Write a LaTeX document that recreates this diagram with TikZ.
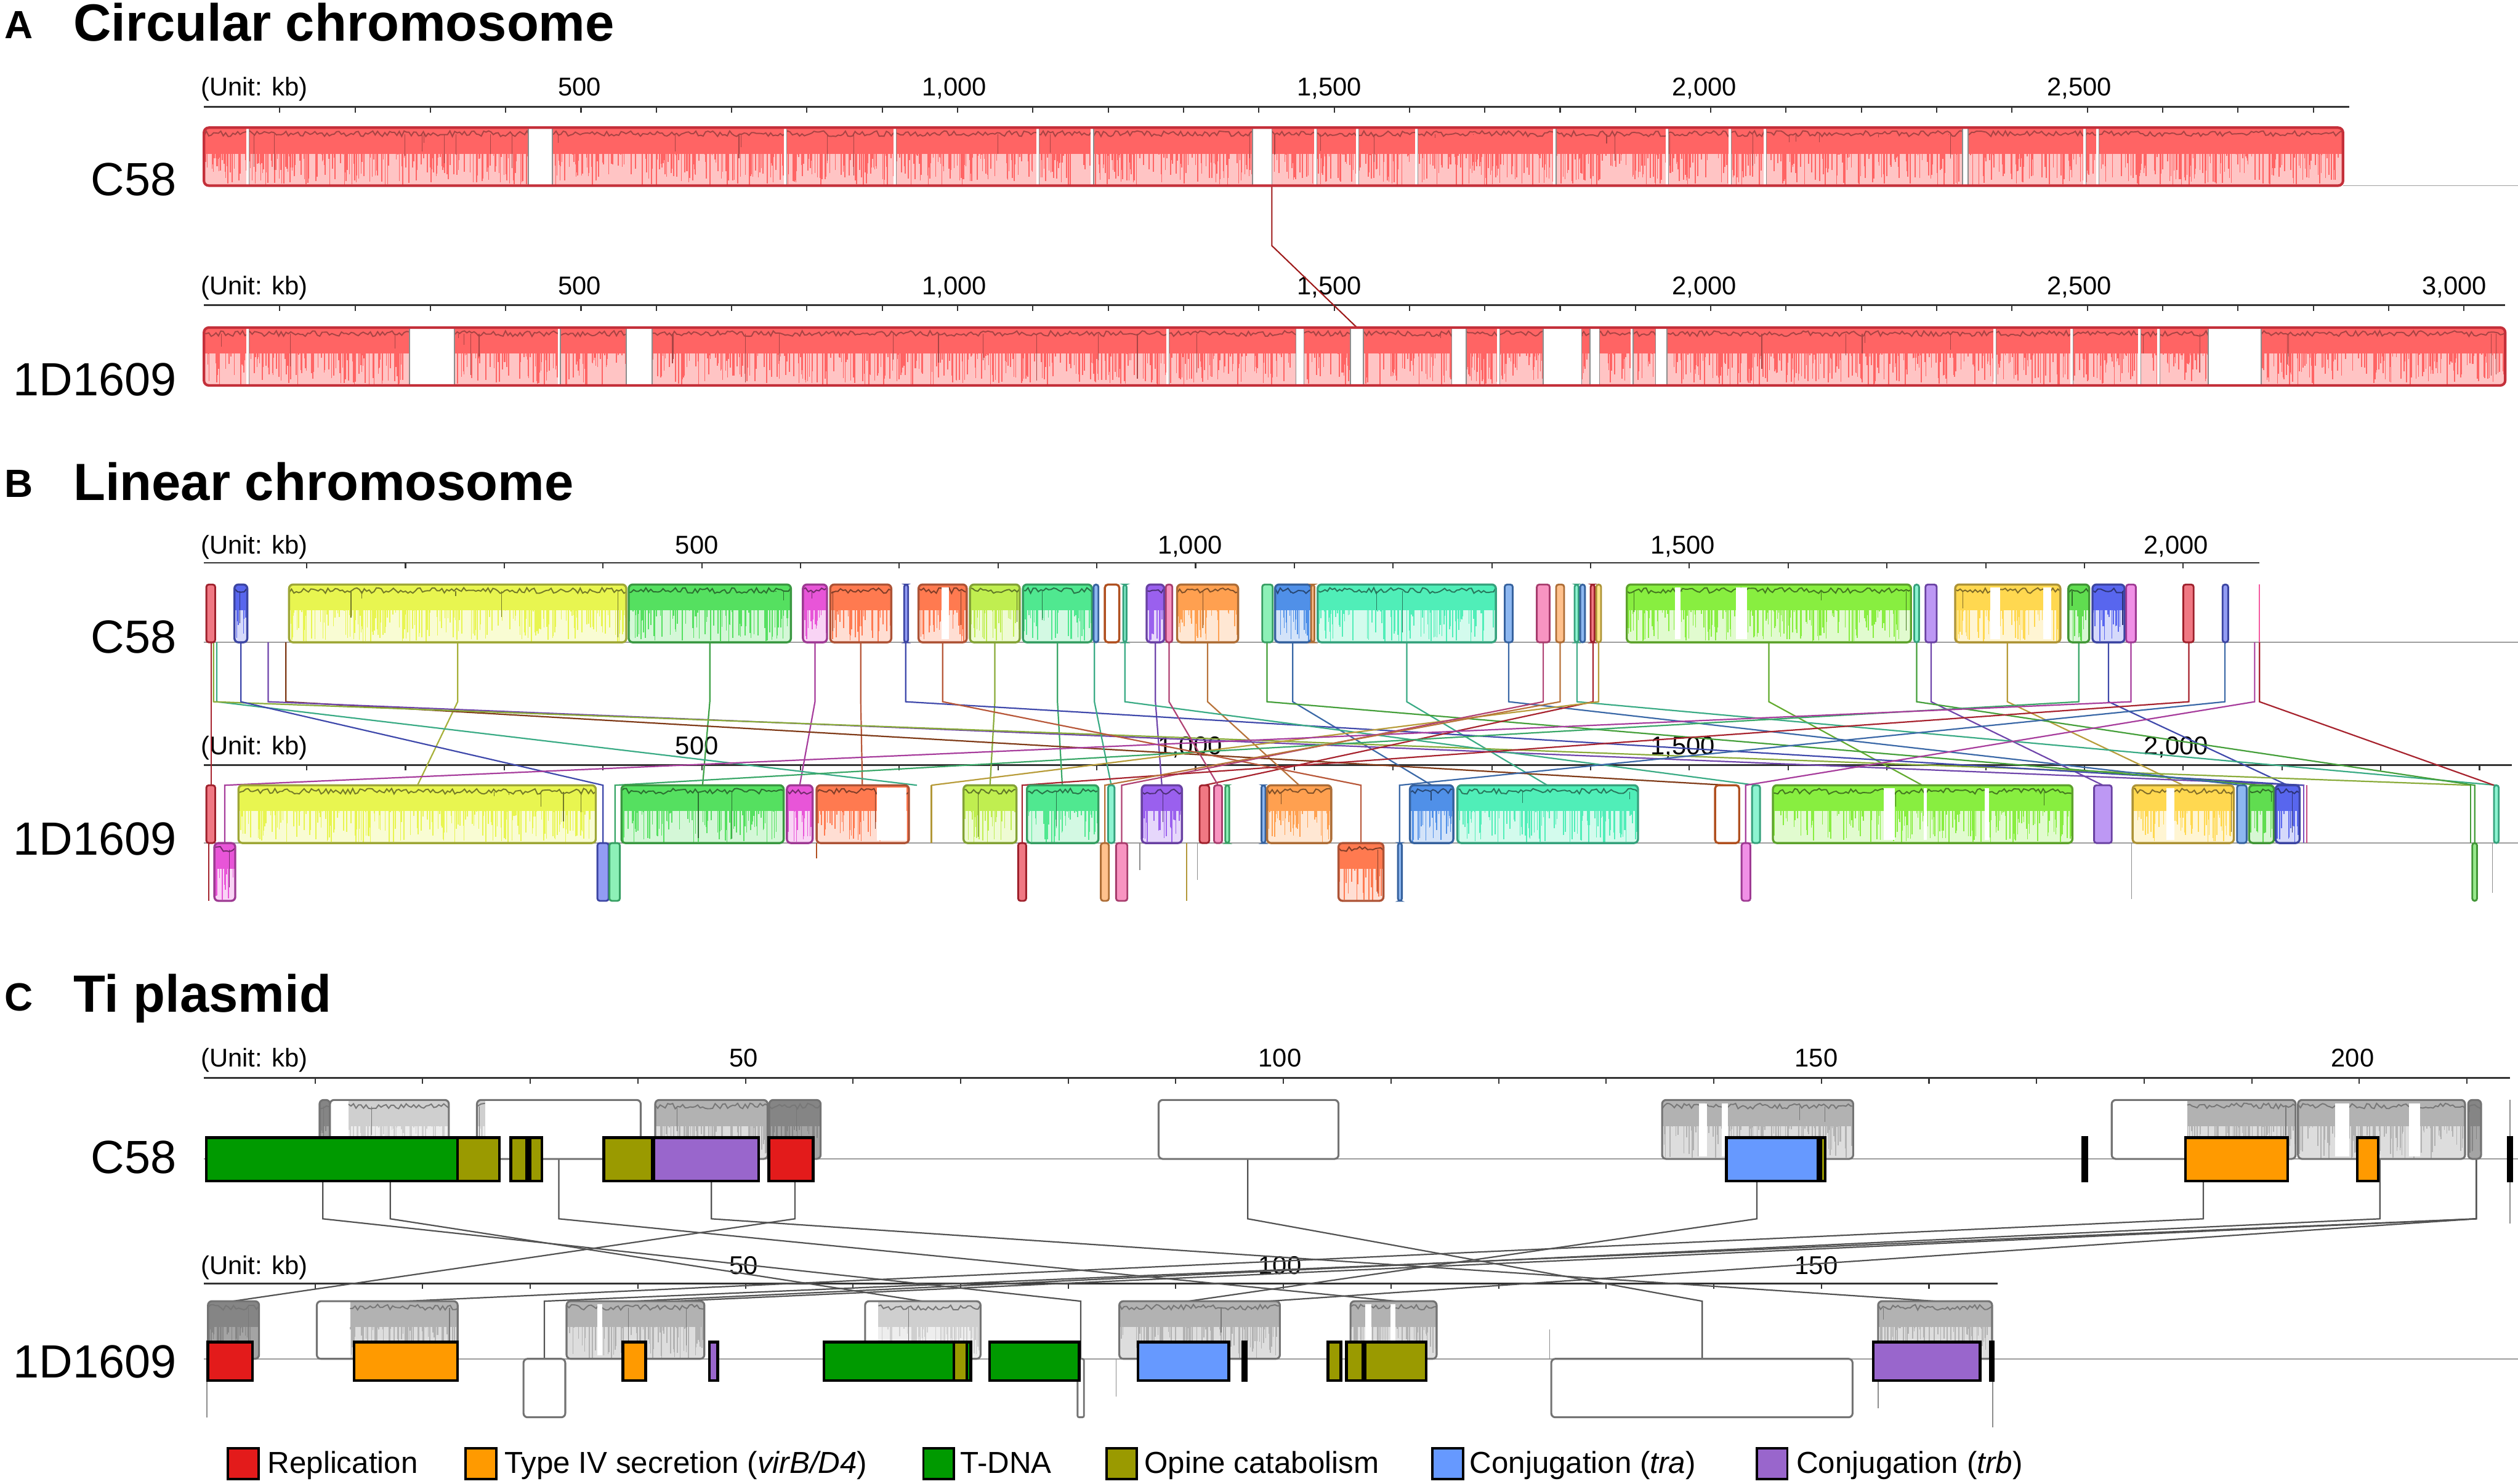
\documentclass[tikz,border=0pt]{standalone}
\usepackage{fontspec}
\setmainfont{Liberation Sans}
\definecolor{aband}{HTML}{FF6464}
\definecolor{alight}{HTML}{FFC4C4}
\definecolor{aprof}{HTML}{A84444}
\definecolor{aout}{HTML}{C4303A}
\definecolor{aline}{HTML}{9E1A1A}
\definecolor{cY}{HTML}{E8F550}
\definecolor{cG}{HTML}{55E060}
\definecolor{cM}{HTML}{E855D8}
\definecolor{cC}{HTML}{FF7A50}
\definecolor{cYG}{HTML}{C0EE50}
\definecolor{cTG}{HTML}{50E890}
\definecolor{cP}{HTML}{9A60EE}
\definecolor{cO}{HTML}{FFA050}
\definecolor{cB}{HTML}{5090E8}
\definecolor{cT}{HTML}{50EEB8}
\definecolor{cLG}{HTML}{88EE40}
\definecolor{cGd}{HTML}{FFD850}
\definecolor{cG2}{HTML}{60DD50}
\definecolor{cB2}{HTML}{5866EE}
\definecolor{cPk}{HTML}{F55AA0}
\definecolor{cR}{HTML}{E83040}
\definecolor{cBr}{HTML}{B05020}
\definecolor{gband}{HTML}{B2B2B2}
\definecolor{glight}{HTML}{DDDDDD}
\definecolor{lband}{HTML}{CFCFCF}
\definecolor{llight}{HTML}{EEEEEE}
\definecolor{dband}{HTML}{858585}
\definecolor{dlight}{HTML}{A4A4A4}
\definecolor{gprof}{HTML}{777777}
\definecolor{lgR}{HTML}{E31B1B}
\definecolor{lgO}{HTML}{FF9A00}
\definecolor{lgG}{HTML}{009A00}
\definecolor{lgOl}{HTML}{9A9A00}
\definecolor{lgB}{HTML}{6699FF}
\definecolor{lgP}{HTML}{9966CC}
\tikzset{
  rul/.style={line width=1.1pt, draw=black!80},
  tickm/.style={line width=0.8pt, draw=black!80},
  lab/.style={font=\fontsize{16}{18}\selectfont, inner sep=0pt},
  glab/.style={font=\fontsize{29}{32}\selectfont, inner sep=0pt, anchor=base east},
  ttl/.style={font=\bfseries\fontsize{32.6}{36}\selectfont, inner sep=0pt, anchor=base west},
  plet/.style={font=\bfseries\fontsize{24.5}{28}\selectfont, inner sep=0pt, anchor=base west},
  baseln/.style={draw=black!38, line width=0.6pt},
  leg/.style={font=\fontsize{18.9}{22}\selectfont, inner sep=0pt, anchor=base west},
}
\newcommand\Prof[7]{%
  \fill[#6] (#1,#3) rectangle (#2,#4);
  \pgfmathsetmacro\ymd{#3+0.45*(#4-#3)}%
  \fill[#5] (#1,#3) rectangle (#2,\ymd);
  \pgfmathtruncatemacro\nn{max(2,(#2-#1)/1.0)}%
  \draw[#5,line width=0.6pt] \foreach \k in {1,...,\nn}{({#1+(#2-#1)*rnd},\ymd) -- ++(0,{(#4-\ymd)*rnd})};
  \pgfmathtruncatemacro\nd{max(1,(#2-#1)/40)}%
  \draw[#7,line width=0.45pt] \foreach \k in {1,...,\nd}{({#1+(#2-#1)*rnd},{#3+4}) -- ++(0,{(#4-#3-6)*rnd})};
  \pgfmathtruncatemacro\ns{max(2,(#2-#1)/1.5)}%
  \draw[#7,line width=0.75pt] plot[domain=#1:#2,samples=\ns] (\x,{#3+2+3.5*rnd});
}
\newcommand\Blk[5]{%
  \begin{scope}
  \clip[rounded corners=2.5pt] (#1,#3) rectangle (#2,#4);
  \Prof{#1}{#2}{#3}{#4}{#5}{#5!25!white}{#5!50!black}
  \end{scope}
  \draw[#5!68!black,line width=1.3pt,rounded corners=2.5pt] (#1,#3) rectangle (#2,#4);
}
\newcommand\Thn[5]{\draw[#5!68!black,fill=#5!65!white,line width=1.1pt,rounded corners=1.5pt] (#1,#3) rectangle (#2,#4);}
\newcommand\GB[8]{%
  \fill[white,rounded corners=2.5pt] (#1,#5) rectangle (#2,#6);
  \begin{scope}
  \clip[rounded corners=2.5pt] (#1,#5) rectangle (#2,#6);
  \Prof{#3}{#4}{#5}{#6}{#7}{#8}{gprof}
  \end{scope}
  \draw[black!55,line width=1.2pt,rounded corners=2.5pt] (#1,#5) rectangle (#2,#6);
}
\newcommand\Wb[4]{\draw[black!55,fill=white,line width=1.2pt,rounded corners=2.5pt] (#1,#3) rectangle (#2,#4);}
\newcommand\Gene[5]{\draw[black,line width=1.7pt,fill=#5] (#1,#3) rectangle (#2,#4);}
\newcommand\Cx[7]{\draw[#7,line width=0.85pt] (#1,#2) -- (#1,#3) -- (#4,#5) -- (#4,#6);}
\newcommand\BU[3]{\Cx{#1}{400}{437}{#2}{489}{489}{#3!72!black}}
\newcommand\BD[3]{\Cx{#1}{400}{437}{#2}{489}{525}{#3!72!black}}
\newcommand\CU[2]{\Cx{#1}{721.7}{759}{#2}{810.3}{810.3}{black!68}}
\newcommand\CD[2]{\Cx{#1}{721.7}{759}{#2}{810.3}{846.2}{black!68}}
\newcommand\Gap[4]{\fill[white] (#1,#3) rectangle (#2,#4); \draw[black!45,line width=0.6pt] (#1,#3)--(#1,#4) (#2,#3)--(#2,#4);}
\newcommand\TGap[3]{\draw[white,line width=1.5pt] (#1,#2)--(#1,#3); \draw[black!45,line width=0.5pt] ({#1+1},#2)--({#1+1},#3);}
\begin{document}
\begin{tikzpicture}[x=1pt,y=-1pt]
\pgfmathsetseed{4242}
\useasboundingbox (0,0) rectangle (1568,924);
\fill[white] (0,0) rectangle (1568,924);

%%%%%%%%%%%%%%%% PANEL A
\node[plet] (pA) at (2.5,24) {A};
\node[ttl] (tA) at (45.5,25.4) {Circular chromosome};
\node[glab] (gA1) at (110,121.6) {C58};
\node[glab] (gA2) at (110,246.5) {1D1609};
\draw[rul] (127,66.5) -- (1463,66.5);
\foreach \i in {1,...,28} \draw[tickm] ({127.3+46.9*\i},66.5) -- ++(0,3.5);
\node[lab,anchor=base west] (uA1) at (125,59.6) {(Unit: kb)};
\foreach \k/\t in {1/500,2/{1,000},3/{1,500},4/{2,000},5/{2,500}}
  \node[lab,anchor=base] (aT\k) at ({127.3+233.5*\k},59.6) {\t};
\draw[rul] (127,190) -- (1560,190);
\foreach \i in {1,...,30} \draw[tickm] ({127.3+46.9*\i},190) -- ++(0,3.5);
\node[lab,anchor=base west] (uA2) at (125,183.6) {(Unit: kb)};
\foreach \k/\t in {1/500,2/{1,000},3/{1,500},4/{2,000},5/{2,500},6/{3,000}}
  \node[lab,anchor=base] (bT\k) at ({127.3+233.5*\k},183.6) {\t};
\draw[baseln] (1459,115.6) -- (1568,115.6);
\draw[aline,line width=0.8pt] (792,115.6) -- (792,153) -- (845,204);
\begin{scope}
\clip[rounded corners=3pt] (127,79.5) rectangle (1459,115.6);
\Prof{127}{1459}{79.5}{115.6}{aband}{alight}{aprof}
\Gap{329}{344}{79.5}{115.6}
\Gap{780}{792}{79.5}{115.6}
\Gap{1222}{1225.5}{79.5}{115.6}
\foreach \g in {154,489,557,646,680,819,845,882,968,1038,1077,1099,1298,1306} {\TGap{\g}{79.5}{115.6}}
\end{scope}
\draw[aout,line width=1.6pt,rounded corners=3pt] (127,79.5) rectangle (1459,115.6);
\begin{scope}
\clip[rounded corners=3pt] (127,204) rectangle (1560,240);
\Prof{127}{1560}{204}{240}{aband}{alight}{aprof}
\Gap{255}{283}{204}{240}
\Gap{390}{406}{204}{240}
\Gap{807}{812}{204}{240}
\Gap{841}{849}{204}{240}
\Gap{904}{913}{204}{240}
\Gap{961}{985}{204}{240}
\Gap{990}{996}{204}{240}
\Gap{1031}{1038}{204}{240}
\Gap{1375}{1408}{204}{240}
\foreach \g in {154,348,727,933,1016,1242,1290,1332,1344} {\TGap{\g}{204}{240}}
\end{scope}
\draw[aout,line width=1.6pt,rounded corners=3pt] (127,204) rectangle (1560,240);

%%%%%%%%%%%%%%%% PANEL B
\node[plet] (pB) at (2.5,309.5) {B};
\node[ttl] (tB) at (45.5,311.4) {Linear chromosome};
\node[glab] (gB1) at (110,406.7) {C58};
\node[glab] (gB2) at (110,532.6) {1D1609};
\draw[rul] (127,350.5) -- (1407,350.5);
\foreach \i in {1,...,20} \draw[tickm] ({129.5+61.5*\i},350.5) -- ++(0,3.5);
\node[lab,anchor=base west] (uB1) at (125,345) {(Unit: kb)};
\foreach \k/\t in {1/500,2/{1,000},3/{1,500},4/{2,000}}
  \node[lab,anchor=base] (cT\k) at ({127+307*\k},345) {\t};
\draw[rul] (127,476.3) -- (1564,476.3);
\foreach \i in {1,...,23} \draw[tickm] ({129.5+61.5*\i},476.3) -- ++(0,3.5);
\node[lab,anchor=base west] (uB2) at (125,470) {(Unit: kb)};
\foreach \k/\t in {1/500,2/{1,000},3/{1,500},4/{2,000}}
  \node[lab,anchor=base] (dT\k) at ({127+307*\k},470) {\t};
\draw[baseln] (127,400) -- (1568,400);
\draw[baseln] (127,525) -- (1568,525);
\BU{285}{260}{cY}
\BU{442}{437.5}{cG}
\BU{507.5}{498}{cM}
\BU{536}{537}{cC}
\BU{619.5}{616.5}{cYG}
\BU{658.5}{661.5}{cTG}
\BU{719.5}{723.5}{cP}
\BU{752}{809}{cO}
\BU{805}{891.5}{cB}
\BU{876}{963.5}{cT}
\BU{1101.5}{1197}{cLG}
\BU{1250}{1359.5}{cGd}
\BU{1313}{1424.5}{cB2}
\BU{1202.5}{1309.5}{cP}
\BU{131.5}{131.5}{cR}
\BU{178}{1075.5}{cBr}
\BU{135}{571}{cT}
\BU{167}{1435}{cP}
\BU{133}{1538.5}{cYG}
\BU{564}{1434}{cB2}
\BU{681.5}{692}{cT}
\BU{700.5}{1093.5}{cT}
\BU{789}{1408}{cG2}
\BU{939.5}{1396}{cB}
\BU{982}{1554.5}{cT}
\BU{992}{750}{cR}
\BU{995.5}{580}{cGd}
\BU{728}{758.5}{cPk}
\BU{1407}{1553}{cR}
\BD{1193.5}{1541}{cG2}
\BD{1294.5}{383}{cTG}
\BD{587}{847.5}{cC}
\BD{150}{375.5}{cB2}
\BD{961}{698.5}{cPk}
\BD{1327}{140}{cM}
\BD{1363}{636.5}{cR}
\BD{1385.5}{871.5}{cB}
\BD{971.5}{688}{cO}
\BD{1404}{1087}{cM}
% C58 blocks
\Thn{128.5}{134}{364}{400}{cR}
\Blk{146}{154}{364}{400}{cB2}
\Blk{180}{390}{364}{400}{cY}
\Blk{391.5}{492.5}{364}{400}{cG}
\Blk{500}{515}{364}{400}{cM}
\Blk{517}{555}{364}{400}{cC}
\Thn{563}{565.5}{364}{400}{cB2}
\Blk{572}{602}{364}{400}{cC}
\fill[white] (586.5,366) rectangle (591,398);
\Blk{604}{635}{364}{400}{cYG}
\Blk{637}{680}{364}{400}{cTG}
\Thn{681}{684}{364}{400}{cB}
\draw[cBr,line width=1.3pt,rounded corners=2pt,fill=white] (688,364) rectangle (697,400);
\Thn{699.5}{701.5}{364}{400}{cT}
\Blk{714}{725}{364}{400}{cP}
\Thn{726}{730}{364}{400}{cPk}
\Blk{733}{771}{364}{400}{cO}
\Thn{786}{792.5}{364}{400}{cTG}
\Blk{794}{816.5}{364}{400}{cB}
\Thn{816.5}{818.5}{364}{400}{cO}
\Blk{820.5}{931.5}{364}{400}{cT}
\Thn{937}{942}{364}{400}{cB}
\Thn{957}{965}{364}{400}{cPk}
\Thn{969}{974}{364}{400}{cO}
\Thn{980.5}{983}{364}{400}{cT}
\Thn{984}{987}{364}{400}{cB}
\Thn{990.5}{993}{364}{400}{cR}
\Thn{994}{997}{364}{400}{cGd}
\Blk{1013}{1190}{364}{400}{cLG}
\fill[white] (1043,366) rectangle (1046.5,398);
\fill[white] (1081,366) rectangle (1088,398);
\Thn{1192}{1195}{364}{400}{cT}
\Thn{1199}{1206}{364}{400}{cP}
\Blk{1217.5}{1283}{364}{400}{cGd}
\fill[white] (1239.5,366) rectangle (1245.5,398);
\fill[white] (1272.5,366) rectangle (1277.5,398);
\Blk{1288}{1301}{364}{400}{cG2}
\Blk{1303}{1323}{364}{400}{cB2}
\Thn{1324}{1330}{364}{400}{cM}
\Thn{1359.5}{1366}{364}{400}{cR}
\Thn{1384}{1387.5}{364}{400}{cB2}
\draw[cPk,line width=0.6pt] (1407,364) -- (1407,400);
% 1D1609 upper blocks
\Thn{128.5}{134}{489}{525}{cR}
\draw[cR!70!black,line width=0.7pt] (130,525) -- (130,561);
\Blk{148.5}{371}{489}{525}{cY}
\Blk{387}{488}{489}{525}{cG}
\Blk{490}{506}{489}{525}{cM}
\Blk{508.5}{566}{489}{525}{cC}
\fill[white] (546,490.5) rectangle (564.3,523.5);
\draw[cGd!70!black,line width=0.8pt] (580,489) -- (580,525);
\Blk{600}{633}{489}{525}{cYG}
\Blk{639.5}{684}{489}{525}{cTG}
\Thn{690}{694}{489}{525}{cT}
\Blk{711}{736}{489}{525}{cP}
\Thn{747}{753}{489}{525}{cR}
\Thn{756}{761}{489}{525}{cPk}
\Thn{763}{765.5}{489}{525}{cTG}
\Thn{785.5}{788}{489}{525}{cB}
\Blk{789}{829}{489}{525}{cO}
\Blk{878}{905}{489}{525}{cB}
\Blk{907.5}{1020}{489}{525}{cT}
\draw[cBr,line width=1.3pt,rounded corners=2pt,fill=white] (1068,489) rectangle (1083,525);
\Thn{1091}{1096}{489}{525}{cT}
\Blk{1104}{1290.5}{489}{525}{cLG}
\fill[white] (1173,491) rectangle (1180,523);
\fill[white] (1198,491) rectangle (1200,523);
\fill[white] (1236,491) rectangle (1238.5,523);
\Thn{1304}{1315}{489}{525}{cP}
\Blk{1328}{1391}{489}{525}{cGd}
\fill[white] (1349,491) rectangle (1354,523);
\Thn{1393}{1399}{489}{525}{cB}
\Blk{1400.5}{1416}{489}{525}{cG2}
\Blk{1417}{1432}{489}{525}{cB2}
\draw[cP!80!black,line width=0.6pt] (1434.5,489) -- (1434.5,525);
\draw[cPk!80!black,line width=0.6pt] (1436.5,489) -- (1436.5,525);
\draw[cG2!70!black,line width=0.7pt] (1538.5,489) -- (1538.5,525);
\Thn{1553}{1556}{489}{525}{cT}
% 1D1609 lower blocks
\Blk{133.5}{146.5}{525}{561}{cM}
\Thn{372}{379}{525}{561}{cB2}
\Thn{379.5}{386}{525}{561}{cTG}
\Thn{634}{639}{525}{561}{cR}
\Thn{685.5}{690.5}{525}{561}{cO}
\Thn{695}{702}{525}{561}{cPk}
\Blk{833.5}{861.5}{525}{561}{cC}
\Thn{870.5}{873}{525}{561}{cB}
\Thn{1084.5}{1090}{525}{561}{cM}
\Thn{1539.5}{1542.5}{525}{561}{cG2}
\draw[black!45,line width=0.6pt] (709.7,525)--(709.7,542) (745.7,525)--(745.7,548) (1327.4,525)--(1327.4,560) (1552,525)--(1552,556);
\draw[cGd!70!black,line width=0.7pt] (739,525) -- (739,561);
\draw[cBr,line width=0.6pt] (508.4,525) -- (508.4,534.5);

%%%%%%%%%%%%%%%% PANEL C
\node[plet] (pC) at (2.5,629.4) {C};
\node[ttl] (tC) at (45.5,630.4) {Ti plasmid};
\node[glab] (gC1) at (110,730.6) {C58};
\node[glab] (gC2) at (110,858) {1D1609};
\draw[rul] (127,671.4) -- (1563,671.4);
\foreach \i in {1,...,21} \draw[tickm] ({129.2+67*\i},671.4) -- ++(0,3.5);
\node[lab,anchor=base west] (uC1) at (125,664.3) {(Unit: kb)};
\foreach \k/\t in {1/50,2/100,3/150,4/200}
  \node[lab,anchor=base] (eT\k) at ({129+334*\k},664.3) {\t};
\draw[rul] (127,799.2) -- (1244,799.2);
\foreach \i in {1,...,16} \draw[tickm] ({129.2+67*\i},799.2) -- ++(0,3.5);
\node[lab,anchor=base west] (uC2) at (125,793.6) {(Unit: kb)};
\foreach \k/\t in {1/50,2/100,3/150}
  \node[lab,anchor=base] (fT\k) at ({129+334*\k},793.6) {\t};
\draw[baseln] (127,721.7) -- (1568,721.7);
\draw[baseln] (127,846.2) -- (1568,846.2);
\CD{201}{673}
\CU{243}{574}
\CU{348}{869}
\CU{443}{1205}
\CU{495}{145}
\CD{777}{1060}
\CU{1094}{740}
\CU{1372}{253}
\CU{1482}{395}
\CD{1542}{339}
\CU{1542}{790}
\CU{1542}{420}
% C58 LCBs
\GB{199}{205.5}{199}{205.5}{685}{721.7}{dband}{dlight}
\GB{205.5}{279.5}{217}{279.5}{685}{721.7}{lband}{llight}
\GB{297}{399}{297}{302}{685}{721.7}{lband}{llight}
\GB{408}{478}{408}{478}{685}{721.7}{gband}{glight}
\GB{479}{511}{479}{511}{685}{721.7}{dband}{dlight}
\Wb{721.5}{833.5}{685}{721.7}
\GB{1035}{1154}{1035}{1154}{685}{721.7}{gband}{glight}
\fill[white] (1058,687) rectangle (1063,720);
\fill[white] (1072,687) rectangle (1076,720);
\GB{1315}{1429.5}{1362}{1429.5}{685}{721.7}{gband}{glight}
\GB{1431}{1535}{1431}{1535}{685}{721.7}{gband}{glight}
\fill[white] (1454,687) rectangle (1463,720);
\fill[white] (1500,687) rectangle (1507,720);
\GB{1537}{1545}{1537}{1545}{685}{721.7}{dband}{dlight}
\draw[black!45,line width=0.6pt] (1563,685) -- (1563,762);
% C58 genes
\Gene{128.4}{285}{708.4}{735.4}{lgG}
\Gene{285}{311}{708.4}{735.4}{lgOl}
\Gene{318}{328}{708.4}{735.4}{lgOl}
\Gene{330}{337.5}{708.4}{735.4}{lgOl}
\Gene{376}{406}{708.4}{735.4}{lgOl}
\Gene{407}{472.5}{708.4}{735.4}{lgP}
\Gene{478.7}{506.4}{708.4}{735.4}{lgR}
\Gene{1075}{1132}{708.4}{735.4}{lgB}
\Gene{1133.7}{1136.5}{708.4}{735.4}{lgOl}
\Gene{1297}{1299.5}{708.4}{735.4}{black}
\Gene{1361}{1424.5}{708.4}{735.4}{lgO}
\Gene{1468}{1481}{708.4}{735.4}{lgO}
\Gene{1562}{1564}{708.4}{735.4}{black}
% 1D1609 LCBs upper
\GB{129.5}{161.3}{129.5}{161.3}{810.3}{846.2}{dband}{dlight}
\GB{197.3}{285}{218}{285}{810.3}{846.2}{gband}{glight}
\GB{352.8}{438.6}{352.8}{438.6}{810.3}{846.2}{gband}{glight}
\fill[white] (372,812) rectangle (375,844);
\GB{538.7}{610.6}{547}{610.6}{810.3}{846.2}{lband}{llight}
\GB{697}{797}{697}{797}{810.3}{846.2}{gband}{glight}
\GB{841}{894.6}{841}{894.6}{810.3}{846.2}{gband}{glight}
\fill[white] (850,812) rectangle (854,844);
\fill[white] (866,812) rectangle (869,844);
\GB{1169.5}{1240.5}{1169.5}{1240.5}{810.3}{846.2}{gband}{glight}
% 1D1609 LCBs lower
\Wb{326}{352}{846.2}{882.6}
\draw[black!55,line width=1.1pt,rounded corners=1pt] (671,846.2) rectangle (675,882.6);
\Wb{966}{1153.6}{846.2}{882.6}
\draw[black!45,line width=0.7pt] (129,846.2)--(129,882.6) (1241,846.2)--(1241,889) (1169.5,860)--(1169.5,877) (695,846.2)--(695,869.5) (965,828)--(965,846.2);
% 1D1609 genes
\Gene{129.5}{157.2}{835.8}{859.7}{lgR}
\Gene{220.4}{285}{835.8}{859.7}{lgO}
\Gene{387.8}{402}{835.8}{859.7}{lgO}
\Gene{441.7}{447}{835.8}{859.7}{lgP}
\Gene{513}{604.5}{835.8}{859.7}{lgG}
\Gene{594}{602}{835.8}{859.7}{lgOl}
\Gene{616.3}{672}{835.8}{859.7}{lgG}
\Gene{708.7}{765.2}{835.8}{859.7}{lgB}
\Gene{774}{776}{835.8}{859.7}{lgOl}
\Gene{827}{835}{835.8}{859.7}{lgOl}
\Gene{838.4}{848.6}{835.8}{859.7}{lgOl}
\Gene{850}{888}{835.8}{859.7}{lgOl}
\Gene{1166.4}{1233}{835.8}{859.7}{lgP}
\Gene{1239.5}{1241}{835.8}{859.7}{black}

% legend
\draw[black,line width=1.5pt,fill=lgR] (142,902) rectangle (161,921);
\node[leg] (L1) at (166.5,917.3) {Replication};
\draw[black,line width=1.5pt,fill=lgO] (290,902) rectangle (309,921);
\node[leg] (L2) at (314,917.3) {Type IV secretion (\textit{virB/D4})};
\draw[black,line width=1.5pt,fill=lgG] (575,902) rectangle (594,921);
\node[leg] (L3) at (598,917.3) {T-DNA};
\draw[black,line width=1.5pt,fill=lgOl] (689,902) rectangle (708,921);
\node[leg] (L4) at (712.5,917.3) {Opine catabolism};
\draw[black,line width=1.5pt,fill=lgB] (892,902) rectangle (911,921);
\node[leg] (L5) at (915,917.3) {Conjugation (\textit{tra})};
\draw[black,line width=1.5pt,fill=lgP] (1094,902) rectangle (1113,921);
\node[leg] (L6) at (1118.5,917.3) {Conjugation (\textit{trb})};
\end{tikzpicture}
\end{document}
